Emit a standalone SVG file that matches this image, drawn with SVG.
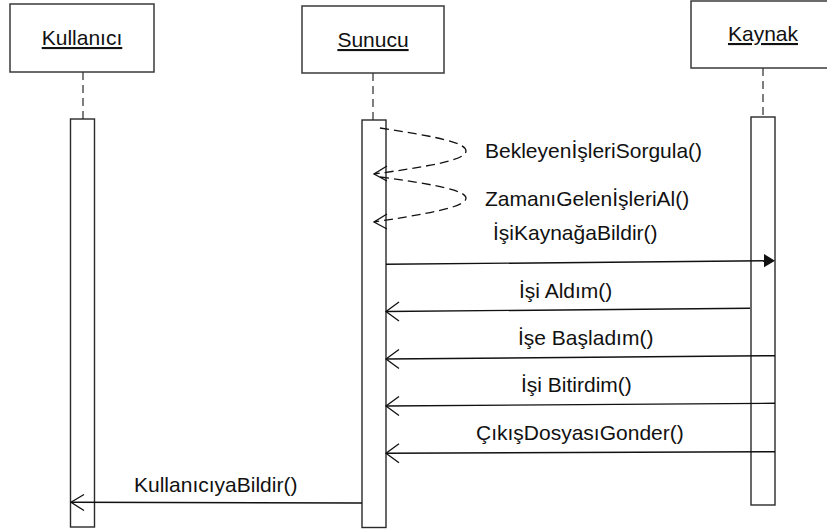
<svg xmlns="http://www.w3.org/2000/svg" width="827" height="531" viewBox="0 0 827 531">
  <style>
    text { font-family: "Liberation Sans", Arial, sans-serif; font-size: 21px; fill: #111; }
    .head { fill: #fff; stroke: #3a3a3a; stroke-width: 1.5; }
    .title { text-anchor: middle; text-decoration: underline; }
    .life { stroke: #3a3a3a; stroke-width: 1.3; stroke-dasharray: 8 5; fill: none; }
    .act { fill: #fff; stroke: #2a2a2a; stroke-width: 1.4; }
    .msg { stroke: #111; stroke-width: 1.4; fill: none; }
    .self { stroke: #111; stroke-width: 1.3; stroke-dasharray: 9 5; fill: none; }
    .open { stroke: #111; stroke-width: 1.3; fill: none; }
  </style>

  <!-- participants -->
  <g id="kullanici">
    <rect class="head" x="10" y="4" width="144" height="68"/>
    <text class="title" x="82" y="45">Kullanıcı</text>
    <line class="life" x1="83" y1="72" x2="83" y2="119"/>
    <rect class="act" x="70.5" y="119" width="24" height="408"/>
  </g>

  <g id="sunucu">
    <rect class="head" x="302" y="6" width="142" height="67"/>
    <text class="title" x="373" y="47">Sunucu</text>
    <line class="life" x1="373" y1="73" x2="373" y2="120"/>
    <rect class="act" x="362" y="120" width="24" height="407.5"/>
  </g>

  <g id="kaynak">
    <rect class="head" x="691" y="1" width="144" height="67"/>
    <text class="title" x="763" y="41">Kaynak</text>
    <line class="life" x1="763" y1="68" x2="763" y2="117"/>
    <rect class="act" x="751" y="117" width="24" height="388"/>
  </g>

  <!-- messages -->
  <g id="connectors">
    <!-- self calls on Sunucu -->
    <path class="self" d="M380,128 C440,137 466,143 466,151 C466,159 440,165 374,174"/>
    <path class="open" d="M387,166 L374,174 L387,181"/>
    <text x="485" y="158">BekleyenİşleriSorgula()</text>

    <path class="self" d="M380,177 C440,185 466,191 466,198 C466,206 440,212 374,222"/>
    <path class="open" d="M387,214 L374,222 L387,229"/>
    <text x="485" y="206">ZamanıGelenİşleriAl()</text>

    <!-- Sunucu -> Kaynak -->
    <text x="493" y="240">İşiKaynağaBildir()</text>
    <line class="msg" x1="386" y1="264.3" x2="766" y2="260.8"/>
    <polygon points="775,260.7 764,254 764,267.3" fill="#111"/>

    <!-- Kaynak -> Sunucu -->
    <text x="519" y="298">İşi Aldım()</text>
    <line class="msg" x1="750" y1="308.3" x2="386" y2="311.5"/>
    <path class="open" d="M399,302 L386,311.5 L399,321"/>

    <text x="518" y="345">İşe Başladım()</text>
    <line class="msg" x1="775" y1="355.7" x2="386" y2="359"/>
    <path class="open" d="M399,349.5 L386,359 L399,368.5"/>

    <text x="521" y="392">İşi Bitirdim()</text>
    <line class="msg" x1="775" y1="403.3" x2="386" y2="406"/>
    <path class="open" d="M399,396.5 L386,406 L399,415.5"/>

    <text x="476" y="440">ÇıkışDosyasıGonder()</text>
    <line class="msg" x1="775" y1="451.7" x2="386" y2="453.3"/>
    <path class="open" d="M399,443.8 L386,453.3 L399,462.8"/>

    <!-- Sunucu -> Kullanıcı -->
    <text x="134" y="492">KullanıcıyaBildir()</text>
    <line class="msg" x1="362" y1="503" x2="71" y2="502.3"/>
    <path class="open" d="M84,494.5 L71,502.3 L84,510.5"/>
  </g>
</svg>
